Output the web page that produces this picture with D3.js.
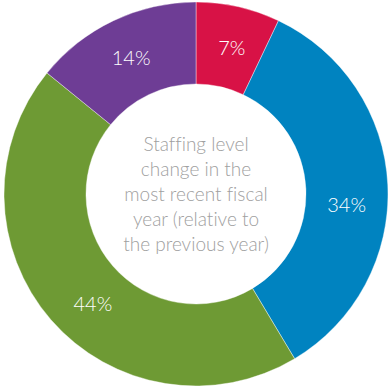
<!DOCTYPE html>
<html>
<head>
<meta charset="utf-8">
<script src="https://cdn.jsdelivr.net/npm/d3@7/dist/d3.min.js"></script>
<style>
  html, body { margin: 0; padding: 0; background: #fff; }
  svg { display: block; }
  text { font-variant-ligatures: none; }
</style>
</head>
<body>
<svg id="chart" width="389" height="388"></svg>
<script>
// Staffing level change, share of respondents
const categories = ["Decreased", "Increased", "Unchanged", "Not stated"];
const shares = [7, 34, 44, 14];
const shareLabels = ["7%", "34%", "44%", "14%"];
const sliceColors = ["#d81246", "#0083c0", "#6e9a34", "#6e3d95"];
const centerLines = [
  "Staffing level",
  "change in the",
  "most recent fiscal",
  "year (relative to",
  "the previous year)"
];

// Layout
const W = 389, H = 388;
const cx = 196, cy = 194;
const outerR = 192, innerR = 110, labelR = 151;
// small angular shifts (degrees) applied to label placement
const labelShift = [1, 7, -6, 0];

const svg = d3.select("#chart");
const g = svg.append("g").attr("transform", `translate(${cx},${cy})`);

const pie = d3.pie().sort(null).value(d => d)(shares);
const arc = d3.arc().innerRadius(innerR).outerRadius(outerR);

g.selectAll("path.slice")
  .data(pie)
  .join("path")
  .attr("class", "slice")
  .attr("d", arc)
  .attr("fill", (d, i) => sliceColors[i])
  .attr("stroke", "#fff")
  .attr("stroke-width", 0.4);

g.selectAll("text.pct")
  .data(pie)
  .join("text")
  .attr("class", "pct")
  .attr("transform", (d, i) => {
    const a = (d.startAngle + d.endAngle) / 2 + labelShift[i] * Math.PI / 180;
    return `translate(${labelR * Math.sin(a)},${-labelR * Math.cos(a)})`;
  })
  .attr("text-anchor", "middle")
  .attr("dy", "0.36em")
  .attr("fill", "#fff")
  .style("font-family", "Lato, sans-serif")
  .style("font-weight", 300)
  .style("font-size", "20px")
  .text((d, i) => shareLabels[i]);

const lineH = 25;
g.selectAll("text.center")
  .data(centerLines)
  .join("text")
  .attr("class", "center")
  .attr("x", 0)
  .attr("y", (d, i) => (i - (centerLines.length - 1) / 2) * lineH)
  .attr("dy", "0.36em")
  .attr("text-anchor", "middle")
  .attr("fill", "#a0a0a0")
  .style("font-family", "Lato, sans-serif")
  .style("font-weight", 300)
  .style("font-size", "19px")
  .text(d => d);
</script>
</body>
</html>
